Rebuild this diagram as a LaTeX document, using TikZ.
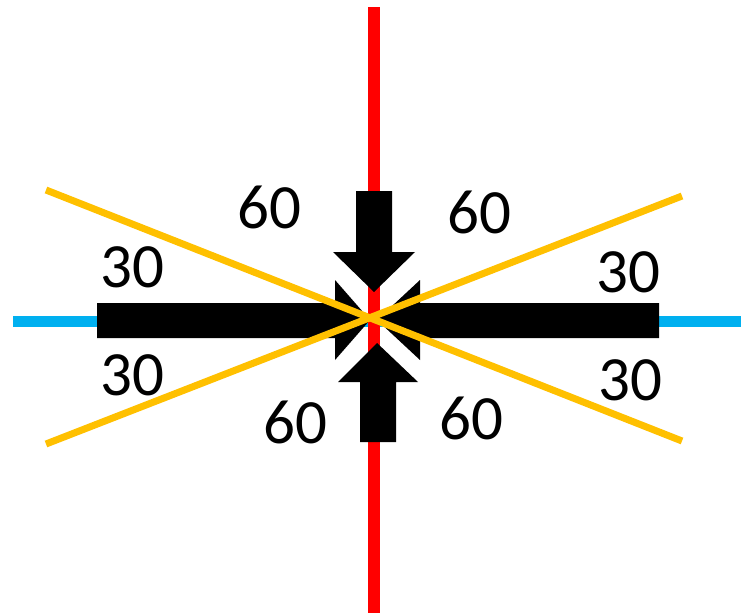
\documentclass[tikz,border=0pt]{standalone}
\usepackage{fontspec}
\setmainfont{Carlito}
\usepackage{tikz}
\definecolor{axisred}{RGB}{255,0,0}
\definecolor{axisblue}{RGB}{0,176,240}
\definecolor{slantyellow}{RGB}{255,192,0}
\tikzset{
    blockarrow/.style={fill=black, draw=none},
    angle/.style={inner sep=0pt, font=\fontsize{63}{63}\selectfont}
}

\begin{document}
\begin{tikzpicture}[x=1pt, y=-1pt]
    \useasboundingbox (0,0) rectangle (741,613);

    % --- horizontal axis ---
    \draw[axisblue, line width=11pt] (13,321) -- (741,321);
    \fill[blockarrow] (97,303) -- (335,303) -- (335,280) -- (370,320)
        -- (335,360) -- (335,338) -- (97,338) -- cycle;
    \fill[blockarrow] (659,303) -- (420,303) -- (420,280) -- (377,320)
        -- (420,360) -- (420,338) -- (659,338) -- cycle;

    % --- vertical axis ---
    \draw[axisred, line width=12pt] (374,7) -- (374,613);
    \fill[blockarrow] (356,191) -- (392,191) -- (392,252) -- (415,252)
        -- (374,292) -- (333,252) -- (356,252) -- cycle;
    \fill[blockarrow] (360,442) -- (396,442) -- (396,382) -- (418,382)
        -- (377,343) -- (338,382) -- (360,382) -- cycle;

    % --- slanted lines ---
    \draw[slantyellow, line width=7pt] (46,190) -- (682,441);
    \draw[slantyellow, line width=7pt] (46,444) -- (682,196);

    % --- labels ---
    \node[angle] (tl60) at (269,207) {60};
    \node[angle] (tr60) at (479,212) {60};
    \node[angle] (bl60) at (295,422) {60};
    \node[angle] (br60) at (471,418) {60};
    \node[angle] (lt30) at (132,267) {30};
    \node[angle] (rt30) at (628,272) {30};
    \node[angle] (lb30) at (132,375) {30};
    \node[angle] (rb30) at (630,380) {30};
\end{tikzpicture}
\end{document}
